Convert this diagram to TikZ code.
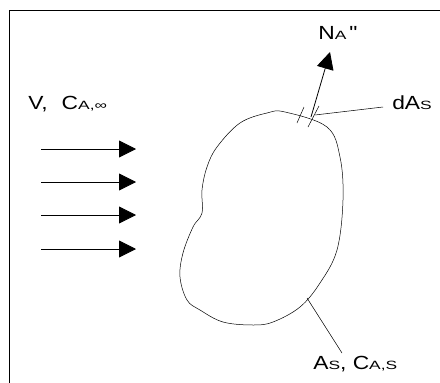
\documentclass[tikz,border=0pt]{standalone}
\usepackage{fontspec}
\setmainfont{Liberation Sans}
\newfontfamily\lblfont[FakeStretch=1.2, Ligatures=TeXOff]{Liberation Sans}
\newfontfamily\subfont[FakeStretch=1.45, Ligatures=TeXOff]{Liberation Sans}
\usetikzlibrary{arrows.meta}
\usetikzlibrary{positioning}

% small wide letters sitting on the baseline
\newcommand{\lowsub}[1]{{\subfont\fontsize{12}{12}\selectfont #1}}

\begin{document}
\begin{tikzpicture}
  [
    x=1pt, y=-1pt,
    line width=0.6pt,
    flow/.style  = {draw, line width=0.8pt, -{Triangle[length=17pt, width=17pt]}},
    lead/.style  = {draw, line width=0.5pt},
    lbl/.style   = {inner sep=0pt, anchor=base west, font=\lblfont\fontsize{19}{21}\selectfont},
  ]

  \useasboundingbox (0,0) rectangle (440,383);

  % the frame (only top and left show)
  \draw (9,383) -- (9,10) -- (440,10);

  % free stream
  \node (flowlbl) at (28,109) [lbl] {V,\hspace{14pt}C\lowsub{A,∞}};
  \foreach \y [count=\i] in {149,182,215,249}
  {
    \coordinate (s\i) at (41,\y);
    \coordinate (e\i) at (136,\y);
    \draw[flow] (s\i) -- (e\i);
  }

  % the body
  \draw[line width=0.5pt] plot[smooth cycle, tension=0.6] coordinates {
    (285,112) (327,127) (340,157) (343,200) (337,250) (320,283) (300,307)
    (273,322) (253,325) (223,322) (200,310) (187,300) (180,277) (183,253)
    (193,227) (202,213) (202,190) (207,167) (217,147) (240,123) (267,113)};

  % surface element and flux
  \draw[lead] (297,123) -- (304,107);
  \draw[lead] (308,127) -- (319,106);
  \coordinate (fluxfoot) at (311,117);
  \coordinate (fluxtip) at (330,52);
  \draw[flow] (fluxfoot) -- (fluxtip);
  \node (nalbl) at (318,39) [lbl] {N\lowsub{A}\hspace{3pt}"};

  \node (dalbl) at (392,109) [lbl] {dA\lowsub{S}};
  \coordinate (dafoot) at (315,115);
  \coordinate (dahead) at (383,107);
  \draw[lead] (dafoot) -- (dahead);

  \node (aslbl) at (313,369) [lbl] {A\lowsub{S}, C\lowsub{A,S}};
  \coordinate (asfoot) at (307,298);
  \coordinate (ashead) at (342,353);
  \draw[lead] (asfoot) -- (ashead);

\end{tikzpicture}
\end{document}
